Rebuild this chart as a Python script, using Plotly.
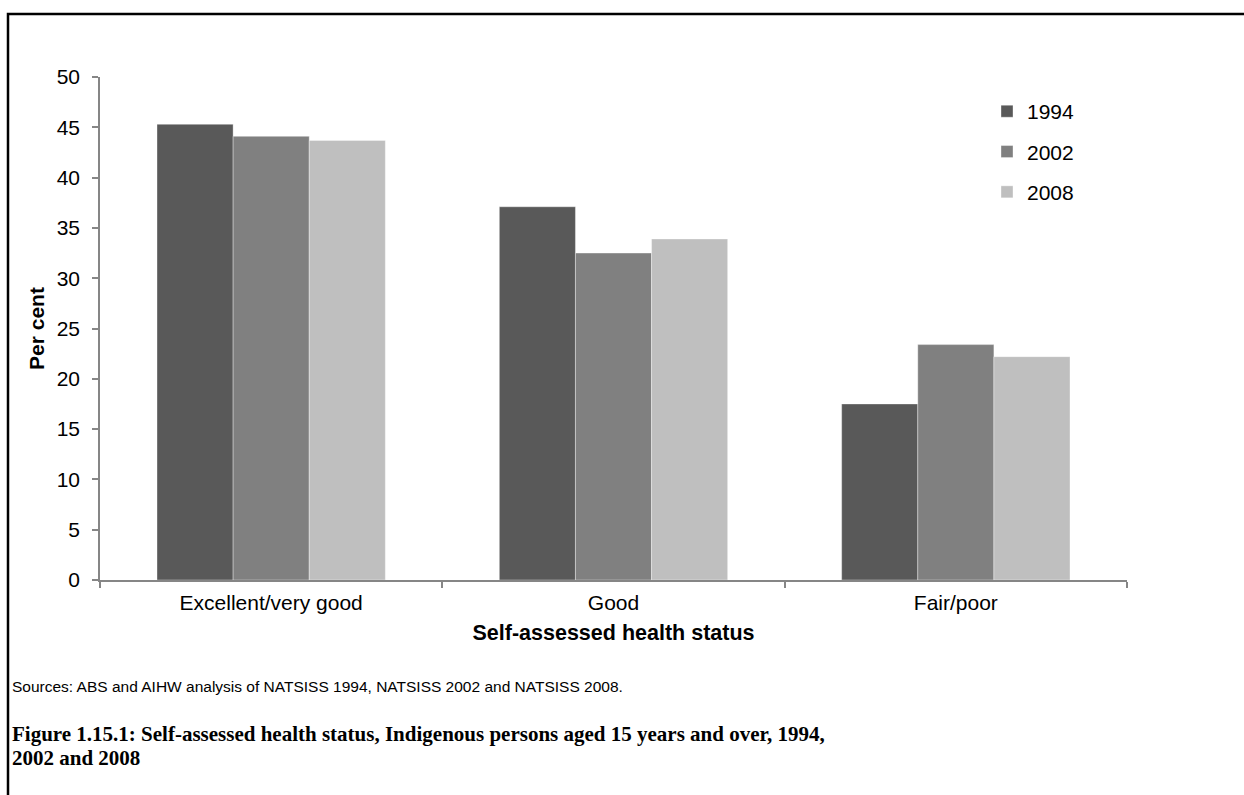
import plotly.graph_objects as go

# Self-assessed health status, Indigenous persons aged 15+ (per cent)
categories = ["Excellent/very good", "Good", "Fair/poor"]
years = ["1994", "2002", "2008"]
values_1994 = [45.3, 37.1, 17.5]
values_2002 = [44.1, 32.5, 23.4]
values_2008 = [43.7, 33.9, 22.2]
series_colors = ["#595959", "#808080", "#bfbfbf"]
y_ticks = [0, 5, 10, 15, 20, 25, 30, 35, 40, 45, 50]

W, H = 1244, 795
ML, MR, MT, MB = 100, 117, 77, 215
PW, PH = W - ML - MR, H - MT - MB


def px_x(x):
    return (x - ML) / PW


def px_y(y):
    return (H - MB - y) / PH


fig = go.Figure()
for i, (yr, vals) in enumerate(zip(years, [values_1994, values_2002, values_2008])):
    fig.add_trace(go.Bar(
        x=categories, y=vals, name=yr,
        marker=dict(color=series_colors[i], line=dict(color="rgba(255,255,255,0.6)", width=0.6)),
        legendgroup=yr,
    ))

SANS = "Liberation Sans, Arial, sans-serif"
axis_font = dict(family=SANS, size=21, color="#000")

fig.update_layout(
    width=W, height=H,
    margin=dict(l=ML, r=MR, t=MT, b=MB),
    paper_bgcolor="white", plot_bgcolor="white",
    barmode="group", bargap=0.333, bargroupgap=0,
    font=axis_font,
    legend=dict(
        x=px_x(987), y=0.972, xanchor="left", yanchor="top",
        font=dict(family=SANS, size=21, color="#000"),
        itemwidth=30, tracegroupgap=10, bgcolor="rgba(0,0,0,0)",
    ),
    showlegend=True,
)

fig.update_xaxes(
    type="category", showline=True, linecolor="#868686", linewidth=1.5,
    ticks="outside", ticklen=6, tickcolor="#868686", tickwidth=1.5,
    tickson="boundaries", showgrid=False, zeroline=False,
    tickfont=axis_font, ticklabelstandoff=3,
    title=dict(text="<b>Self-assessed health status</b>", standoff=12,
               font=dict(family=SANS, size=21.5, color="#000")),
)
fig.update_yaxes(
    range=[0, 50], tickvals=y_ticks, showline=True, linecolor="#868686", linewidth=1.5,
    ticks="outside", ticklen=6, tickcolor="#868686", tickwidth=1.5,
    showgrid=False, zeroline=False, tickfont=axis_font, ticklabelstandoff=8,
    title=dict(text="<b>Per cent</b>", standoff=6,
               font=dict(family=SANS, size=21, color="#000")),
)

# Surrounding frame of the figure panel
fig.add_shape(type="rect", xref="paper", yref="paper",
              x0=px_x(8), x1=px_x(W + 20), y0=px_y(H + 30), y1=px_y(14),
              line=dict(color="#000", width=2.5), fillcolor="rgba(0,0,0,0)", layer="above")

fig.add_annotation(
    text="Sources: ABS and AIHW analysis of NATSISS 1994, NATSISS 2002 and NATSISS 2008.",
    xref="paper", yref="paper", x=px_x(10), y=px_y(686),
    xanchor="left", yanchor="middle", showarrow=False, align="left",
    font=dict(family=SANS, size=15.5, color="#000"),
)

caption_lines = [
    "Figure 1.15.1: Self-assessed health status, Indigenous persons aged 15 years and over, 1994,",
    "2002 and 2008",
]
for line, yc in zip(caption_lines, [734, 758]):
    fig.add_annotation(
        text="<b>" + line + "</b>",
        xref="paper", yref="paper", x=px_x(10), y=px_y(yc),
        xanchor="left", yanchor="middle", showarrow=False, align="left",
        font=dict(family="Liberation Serif, DejaVu Serif, serif", size=21, color="#000"),
    )

fig.write_html("out.html")
